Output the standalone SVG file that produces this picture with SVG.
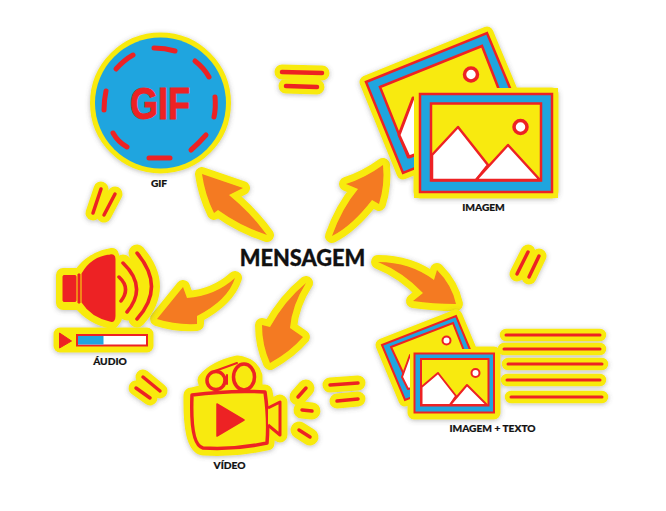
<svg xmlns="http://www.w3.org/2000/svg" width="666" height="511" viewBox="0 0 666 511">
<defs>
<filter id="sh" filterUnits="userSpaceOnUse" x="0" y="0" width="666" height="511"><feDropShadow dx="0" dy="1" stdDeviation="2.500" flood-color="#555" flood-opacity=".4"/></filter>
</defs>
<style>
.s{filter:url(#sh)}
.y{fill:#f8ea0f;stroke:#f8ea0f;stroke-linejoin:round;stroke-linecap:round}
.ly{fill:none;stroke:#f8ea0f;stroke-linecap:round}
.r{fill:none;stroke:#ed2224;stroke-linecap:round;stroke-linejoin:round}
.rf{fill:#ed2224;stroke:#ed2224;stroke-linejoin:round}
.b{fill:#1fa5df}
.w{fill:#fff}
.a{fill:#f47a20;stroke:#f8ea0f;stroke-width:14;stroke-linejoin:round;paint-order:stroke}
.t{font-family:Lato,"Liberation Sans",sans-serif;font-weight:900;font-size:10.200px;fill:#111;text-anchor:middle;stroke:#111;stroke-width:.2}
</style>
<rect width="666" height="511" fill="#fff"/>
<g id="connectors">
<path class="a s" d="M202 174L243 188L229 195Q252 214 267 235Q240 226 218 210L214 213Q205 195 202 174Z"/>
<path class="a s" d="M383 165Q385 185 379 204L372 200Q352 226 332 236Q342 208 358 189L346 184Q365 178 383 165Z"/>
<path class="a s" d="M157 319L183 287L187 298Q215 296 235 278Q228 300 197 316L197 324Q175 325 157 319Z"/>
<path class="a s" d="M270 363Q262 345 262 325L270 327Q285 300 306 283Q292 305 290 328L303 337Q290 352 270 363Z"/>
<path class="a s" d="M456 304Q433 304 413 301L423 293Q403 272 378 262Q410 262 434 280L437 270Q452 285 456 304Z"/>
</g>
<g id="equals">
<g class="s"><path class="ly" stroke-width="15" d="M282 72L322 73M286 86L317 87"/><path class="r" stroke-width="4.500" d="M282 72L322 73M286 86L317 87"/></g>
<g class="s"><path class="ly" stroke-width="15" d="M101 189L93 213M115 194L104 215"/><path class="r" stroke-width="3.500" d="M101 189L93 213M115 194L104 215"/></g>
<g class="s"><path class="ly" stroke-width="15" d="M528 252L517 274M539 256L529 277"/><path class="r" stroke-width="3.500" d="M528 252L517 274M539 256L529 277"/></g>
<g class="s"><path class="ly" stroke-width="15" d="M143 377L160 391M136 388L150 398"/><path class="r" stroke-width="3.500" d="M143 377L160 391M136 388L150 398"/></g>
<g class="s"><path class="ly" stroke-width="15" d="M330 385L358 383M337 401L358 399"/><path class="r" stroke-width="3.500" d="M330 385L358 383M337 401L358 399"/></g>
</g>
<g id="gif">
<circle class="y s" cx="160.500" cy="103" r="66" stroke-width="9"/>
<circle class="b" cx="160.500" cy="103" r="65.500"/>
<path class="r" stroke-width="5" d="M154 48Q165 48 175 51M195 61Q204 68 209 77M215 97Q216 108 214 117M206 135Q199 143 191 150M170 158H149M113 133Q118 142 127 147M106 91Q104 100 104 110M133 55Q124 60 116 69"/>
<text x="160" y="118.500" font-family="'Liberation Sans',sans-serif" font-weight="700" font-size="44" text-anchor="middle" fill="#ed2224" stroke="#ed2224" stroke-width="1" textLength="60" lengthAdjust="spacingAndGlyphs">GIF</text>
<text class="t" x="159" y="187">GIF</text>
</g>
<g id="imagem">
<g class="s">
<path class="y" stroke-width="13" d="M366 82L487 33L525 124L403 173Z"/>
<path class="y" stroke-width="13" d="M420 94H552V192H420Z"/>
</g>
<path class="b" d="M366 82L487 33L525 124L403 173Z" stroke="#ed2224" stroke-width="2.500" stroke-linejoin="miter"/>
<path d="M380 87L482 46L510 118L408 157Z" fill="#f8ea0f" stroke="#ed2224" stroke-width="2.500"/>
<circle cx="471" cy="74.500" r="6.500" fill="#fff" stroke="#ed2224" stroke-width="3.500"/>
<path d="M399 135L413 98L420 100V153L409 157Z" fill="#fff" stroke="#ed2224" stroke-width="3" stroke-linejoin="round"/>
<rect x="414" y="88" width="144" height="110" fill="#f8ea0f"/>
<rect x="420" y="94" width="132" height="98" class="b" stroke="#ed2224" stroke-width="2.500"/>
<rect x="431" y="103.500" width="110" height="77" fill="#f8ea0f" stroke="#ed2224" stroke-width="2.500"/>
<path d="M432 155L458 127L488 165L476 180H432Z" fill="#fff" stroke="#ed2224" stroke-width="2.500" stroke-linejoin="round"/>
<path d="M476 180L508 145L540 180Z" fill="#fff" stroke="#ed2224" stroke-width="2.500" stroke-linejoin="round"/>
<circle cx="520.500" cy="127" r="6.500" fill="#fff" stroke="#ed2224" stroke-width="3.500"/>
<text class="t" x="483.500" y="211">IMAGEM</text>
</g>
<g id="audio">
<g class="s">
<path class="y" stroke-width="14" d="M63 275H80Q92 258 112 255L115 318L112 322Q92 318 80 303H63Z"/>
<path class="ly" stroke-width="17" d="M119 277Q131 288 121 301M123 263Q148 287 127 312M137 253Q166 287 137 319"/>
<rect class="y" x="60" y="334" width="87" height="12" stroke-width="13"/>
</g>
<rect class="rf" x="63" y="275.500" width="13" height="26" rx="1" stroke-width="1"/>
<rect class="rf" x="78" y="274" width="2" height="29" stroke-width="1"/>
<path class="rf" stroke-width="3" d="M83 274Q92 258 110 256Q114 255 114 259V316Q114 322 110 320Q92 316 83 302Z"/>
<path class="r" stroke-width="3.500" d="M119 277Q131 288 121 301M123 263Q148 287 127 312M137 253Q166 287 137 319"/>
<path class="rf" stroke-width="1" d="M59.500 333L71.500 341L59.500 348Z"/>
<rect class="w" x="77" y="335" width="70" height="10.500" stroke="#ed2224" stroke-width="2"/>
<rect class="b" x="78" y="336" width="25.500" height="8.500"/>
<text class="t" x="110" y="364.500">ÁUDIO</text>
</g>
<g id="video">
<g class="s">
<path class="y" stroke-width="15" d="M192 395L208 391L205 380Q215 368 237 363Q252 365 255 376L255 392L265 392L268 408L280 402V435L268 425L267 443Q235 450 203 448Q190 445 191 395Z"/>
<path class="ly" stroke-width="17" d="M306 388L298 397M302 410L312 411M299 430L310 437"/>
</g>
<path d="M192 395Q230 390 265 392Q269 420 267 443Q235 450 203 448Q190 445 192 395Z" fill="#f8ea0f" stroke="#ed2224" stroke-width="3.500" stroke-linejoin="round"/>
<path d="M268 408L280 402V435L268 425" fill="#f8ea0f" stroke="#ed2224" stroke-width="3" stroke-linejoin="round"/>
<circle cx="216" cy="380.500" r="9" fill="#f8ea0f" stroke="#ed2224" stroke-width="3.500"/>
<ellipse cx="244" cy="377" rx="10.500" ry="13" fill="#f8ea0f" stroke="#ed2224" stroke-width="3.500"/>
<path class="r" stroke-width="2" d="M215 371L237 363M227 375V384"/>
<path class="rf" stroke-width="1.500" d="M217 404L244 420L217 436Z"/>
<path class="r" stroke-width="3.500" d="M306 388L298 397M302 410L312 411M299 430L310 437"/>
<text class="t" x="229.500" y="468.500">VÍDEO</text>
</g>
<g id="imagem-texto">
<g class="s">
<path class="y" stroke-width="13" d="M382 345L456 316L479 371L405 400Z"/>
<path class="y" stroke-width="13" d="M414 353H494V413H414Z"/>
<path class="ly" stroke-width="12.500" d="M506 335H600M504 349H600M508 364H602M507 380H600M511 397H602"/>
</g>
<path class="b" d="M382 345L456 316L479 371L405 400Z" stroke="#ed2224" stroke-width="2"/>
<path d="M391 347L453 323L470 366L413 394Z" fill="#f8ea0f" stroke="#ed2224" stroke-width="2"/>
<circle cx="446.500" cy="340.500" r="4" fill="#fff" stroke="#ed2224" stroke-width="2"/>
<path d="M402 377L410 355L416 357V387L408 389Z" fill="#fff" stroke="#ed2224" stroke-width="2" stroke-linejoin="round"/>
<rect x="410" y="349" width="88" height="68" fill="#f8ea0f"/>
<rect x="414.500" y="353.500" width="79.500" height="59" class="b" stroke="#ed2224" stroke-width="2"/>
<rect x="421" y="359" width="67.500" height="46.500" fill="#f8ea0f" stroke="#ed2224" stroke-width="2"/>
<path d="M421.500 387L438 373L456 396L450 405H421.500Z" fill="#fff" stroke="#ed2224" stroke-width="2" stroke-linejoin="round"/>
<path d="M450 405L467 385L487 405Z" fill="#fff" stroke="#ed2224" stroke-width="2" stroke-linejoin="round"/>
<circle cx="475.500" cy="373" r="4" fill="#fff" stroke="#ed2224" stroke-width="2"/>
<path class="r" stroke-width="3" d="M506 335H600M504 349H600M508 364H602M507 380H600M511 397H602"/>
<text class="t" x="492.500" y="431.500">IMAGEM + TEXTO</text>
</g>
<g id="mensagem">
<text x="302.500" y="266" font-family="Lato,'Liberation Sans',sans-serif" font-weight="900" font-size="21.800" text-anchor="middle" fill="#111" stroke="#111" stroke-width=".3">MENSAGEM</text>
</g>
</svg>
